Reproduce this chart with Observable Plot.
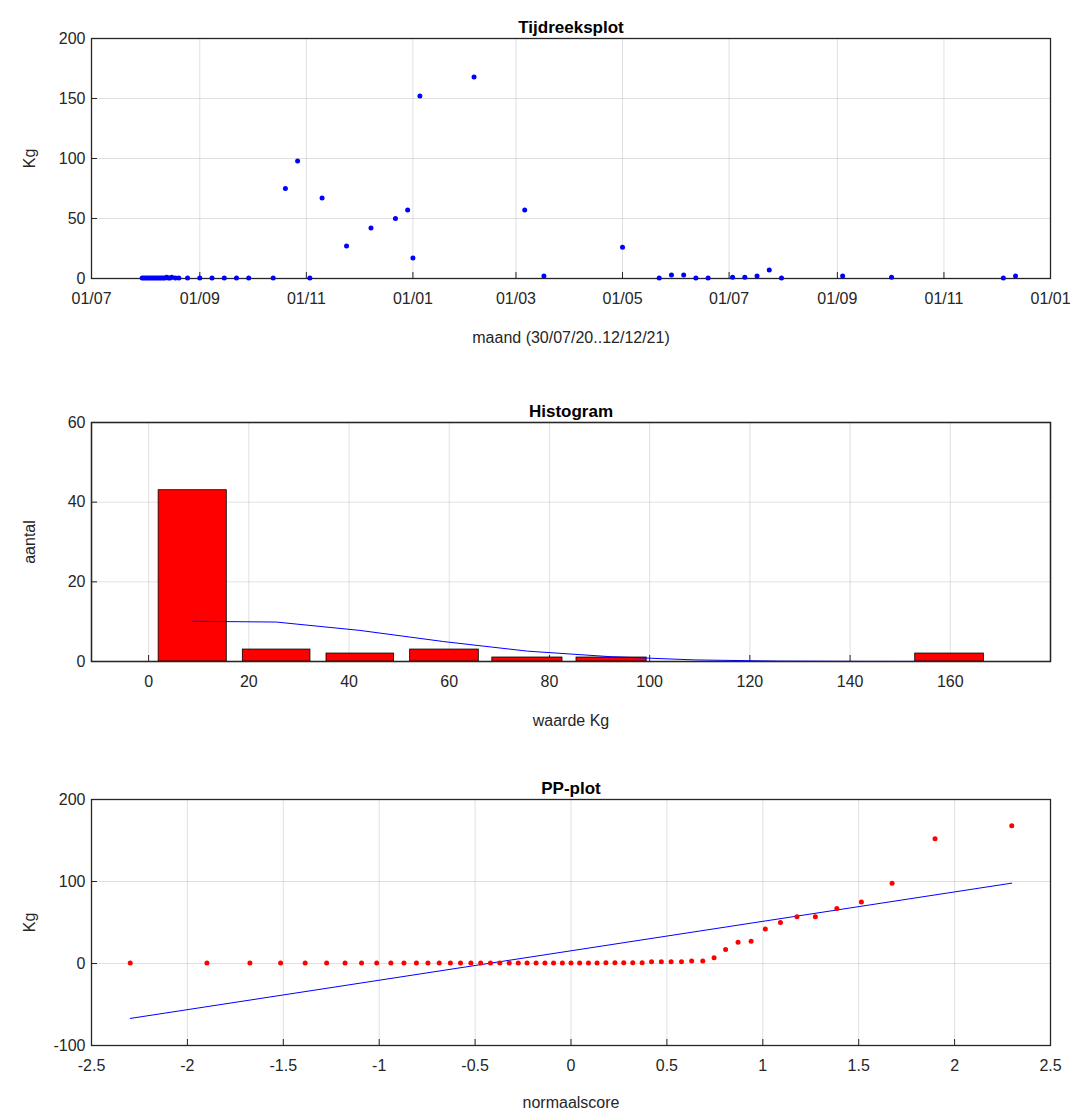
<!DOCTYPE html>
<html>
<head>
<meta charset="utf-8">
<script src="https://cdn.jsdelivr.net/npm/d3@7"></script>
<script src="https://cdn.jsdelivr.net/npm/@observablehq/plot@0.6"></script>
<style>
body { margin: 0; background: #fff; font-family: "Liberation Sans", Arial, sans-serif; }
svg { display: block; }
</style>
</head>
<body>
<div id="charts"></div>
<script>
// tijdreeks
var dates = ["2020-07-30","2020-07-31","2020-08-01","2020-08-02","2020-08-03","2020-08-04","2020-08-05","2020-08-06",
  "2020-08-07","2020-08-08","2020-08-09","2020-08-10","2020-08-11","2020-08-12","2020-08-13","2020-08-14","2020-08-15",
  "2020-08-16","2020-08-18","2020-08-20","2020-08-25","2020-09-01","2020-09-08","2020-09-15","2020-09-22","2020-09-29",
  "2020-10-13","2020-10-20","2020-10-27","2020-11-03","2020-11-10","2020-11-24","2020-12-08","2020-12-22","2020-12-29",
  "2021-01-01","2021-01-05","2021-02-05","2021-03-06","2021-03-17","2021-05-01","2021-05-22","2021-05-29","2021-06-05",
  "2021-06-12","2021-06-19","2021-07-03","2021-07-10","2021-07-17","2021-07-24","2021-07-31","2021-09-04","2021-10-02",
  "2021-12-05","2021-12-12"]
var kg = [0.5,0.5,0.5,0.5,0.5,0.5,0.5,0.5,0.5,0.5,0.5,0.5,0.5,0.5,1,0.5,0.5,1,0.5,0.5,
  0.5,0.5,0.5,0.5,0.5,0.5,0.5,75,98,0.5,67,27,42,50,57,17,152,168,57,2,26,0.5,3,3,0.5,0.5,1,1,2,7,0.5,2,1,0.5,2]

// histogram
var binLo = [2.0, 18.8, 35.5, 52.2, 68.6, 85.4, 153.0]
var binHi = [15.6, 32.3, 49.0, 65.9, 82.6, 99.4, 166.7]
var counts = [43, 3, 2, 3, 1, 1, 2]
var curveX = [8.8, 25.5, 42.2, 58.9, 75.6, 92.3, 109.0, 125.7, 142.4, 159.1]
var curveY = [10.1, 9.9, 7.8, 5.0, 2.6, 1.2, 0.4, 0.1, 0.03, 0.01]

// pp-plot
var scores = [-2.298,-1.898,-1.674,-1.514,-1.386,-1.274,-1.178,-1.092,-1.013,-0.939,-0.871,-0.806,-0.746,-0.687,
  -0.629,-0.576,-0.522,-0.471,-0.420,-0.371,-0.322,-0.275,-0.229,-0.182,-0.136,-0.091,-0.045,0,
  0.045,0.091,0.136,0.182,0.229,0.275,0.322,0.371,0.420,0.471,0.522,0.576,0.629,0.687,0.746,0.806,
  0.871,0.939,1.013,1.092,1.178,1.274,1.386,1.514,1.674,1.898,2.298]
var fitX = [-2.298, 2.298]
var fitY = [-67, 98]

var font = "Liberation Sans, Arial, sans-serif"
var parse = d3.utcParse("%Y-%m-%d")
var series = dates.map((d, i) => ({date: parse(d), kg: kg[i]}))
var sorted = d3.sort(kg)
var pp = scores.map((s, i) => ({s: s, v: sorted[i]}))
var bars = counts.map((c, i) => ({lo: binLo[i], hi: binHi[i], n: c}))
var curve = curveX.map((x, i) => ({x: x, y: curveY[i]}))
var fit = fitX.map((x, i) => ({x: x, y: fitY[i]}))

var base = {
  width: 1079, marginLeft: 91, marginRight: 29,
  style: {fontFamily: font, fontSize: "17px", color: "#262626", background: "#fff"}
}
function title(t) {
  return Plot.text([t], {frameAnchor: "top", dy: -18, fontSize: 17, fontWeight: "bold", fill: "#000"})
}
function axes(xopts, yopts, xlabel, ylabel, xoff) {
  return [
    Plot.gridX(xopts.ticks, {stroke: "#000", strokeOpacity: 0.12}),
    Plot.gridY(yopts.ticks, {stroke: "#000", strokeOpacity: 0.12}),
    Plot.axisX({ticks: xopts.ticks, tickFormat: xopts.format || String, tickSize: -6, tickPadding: 20, fontSize: 16,
      label: xlabel, labelAnchor: "center", labelArrow: "none", labelOffset: xoff}),
    Plot.axisY({ticks: yopts.ticks, tickFormat: String, tickSize: -6, tickPadding: 12, fontSize: 16,
      label: ylabel, labelAnchor: "center", labelArrow: "none", labelOffset: 68}),
    Plot.frame({stroke: "#262626", strokeWidth: 1.3})
  ]
}

var p1 = Plot.plot({...base, height: 370, marginTop: 38, marginBottom: 92,
  x: {type: "utc", domain: [parse("2020-07-01"), parse("2022-01-01")]},
  y: {domain: [0, 200]},
  marks: [
    ...axes({ticks: d3.utcMonth.every(2).range(parse("2020-07-01"), parse("2022-01-02")), format: d3.utcFormat("%d/%m")},
      {ticks: [0, 50, 100, 150, 200]}, "maand (30/07/20..12/12/21)", "Kg", 64),
    Plot.dot(series, {x: "date", y: "kg", r: 2.5, fill: "#0000ff"}),
    title("Tijdreeksplot")
  ]
})

var p2 = Plot.plot({...base, height: 380, marginTop: 52, marginBottom: 89,
  x: {domain: [-11.4, 180]},
  y: {domain: [0, 60]},
  marks: [
    ...axes({ticks: [0, 20, 40, 60, 80, 100, 120, 140, 160]}, {ticks: [0, 20, 40, 60]}, "waarde Kg", "aantal", 64),
    Plot.rectY(bars, {x1: "lo", x2: "hi", y: "n", fill: "#ff0000", stroke: "#000", strokeWidth: 0.8}),
    Plot.line(curve, {x: "x", y: "y", stroke: "#0000ff", strokeWidth: 1}),
    Plot.frame({stroke: "#262626", strokeWidth: 1.3}),
    title("Histogram")
  ]
})

var p3 = Plot.plot({...base, height: 363, marginTop: 49, marginBottom: 68,
  x: {domain: [-2.5, 2.5]},
  y: {domain: [-100, 200]},
  marks: [
    ...axes({ticks: [-2.5, -2, -1.5, -1, -0.5, 0, 0.5, 1, 1.5, 2, 2.5]}, {ticks: [-100, 0, 100, 200]}, "normaalscore", "Kg", 62),
    Plot.line(fit, {x: "x", y: "y", stroke: "#0000ff", strokeWidth: 1}),
    Plot.dot(pp, {x: "s", y: "v", r: 2.5, fill: "#ff0000"}),
    title("PP-plot")
  ]
})

var el = document.getElementById("charts")
el.append(p1, p2, p3)
</script>
</body>
</html>
